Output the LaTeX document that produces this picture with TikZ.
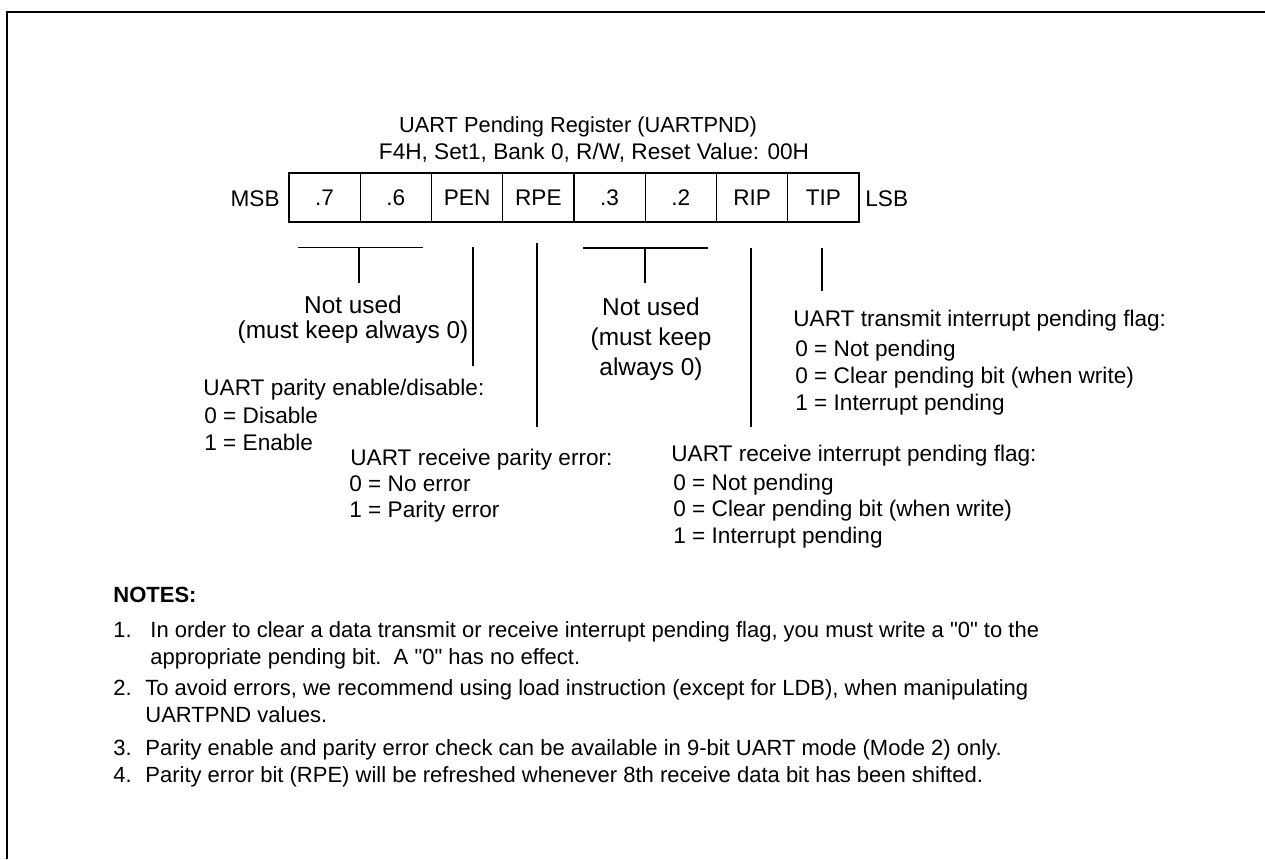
\documentclass[tikz,border=0pt]{standalone}
\usepackage{fontspec}
\setmainfont{Liberation Sans}[Ligatures=TeXOff]
\begin{document}
\begin{tikzpicture}[x=0.5pt,y=-0.5pt,
  txt/.style={inner sep=0pt, font=\fontsize{11.3pt}{13pt}\selectfont, text height=8.1pt, text depth=0pt},
  bigtxt/.style={inner sep=0pt, font=\fontsize{12.2pt}{14pt}\selectfont, text height=8.7pt, text depth=0pt},
  ntxt/.style={inner sep=0pt, anchor=west, font=\fontsize{11pt}{13pt}\selectfont, text height=7.9pt, text depth=0pt},
  cell/.style={draw, line width=0.6pt, minimum width=35.625pt, minimum height=24.5pt, inner sep=0pt,
    font=\fontsize{11.3pt}{13pt}\selectfont, text height=8.1pt, text depth=0pt},
  lnk/.style={line width=0.6pt}]
\useasboundingbox (0,0) rectangle (1265,859);
\draw[line width=1pt] (7,859) -- (7,12) -- (1265,12);

% title
\node[txt, font=\fontsize{10.9pt}{13pt}\selectfont, text height=7.8pt] (title) at (578,125) {UART Pending Register (UARTPND)};
\node[txt] (sub) at (594,151) {F4H, Set1, Bank 0, R/W, Reset Value: 00H};

% register cells
\node[cell] (b7) at (324.625,197.5) {.7};
\node[cell] (b6) at (395.875,197.5) {.6};
\node[cell] (b5) at (467.125,197.5) {PEN};
\node[cell] (b4) at (538.375,197.5) {RPE};
\node[cell] (b3) at (609.625,197.5) {.3};
\node[cell] (b2) at (680.875,197.5) {.2};
\node[cell] (b1) at (752.125,197.5) {RIP};
\node[cell] (b0) at (823.375,197.5) {TIP};
\node[txt, anchor=east] (msb) at (280,198) {MSB};
\node[txt, anchor=west] (lsb) at (865,198) {LSB};

% connector coordinates
\coordinate (br1l) at (298,247.5);
\coordinate (br1r) at (423,247.5);
\coordinate (br1t) at (359,247.5);
\coordinate (br1b) at (359,283);
\coordinate (penT) at (473,247);
\coordinate (penB) at (473,366);
\coordinate (rpeT) at (537,243);
\coordinate (rpeB) at (537,427);
\coordinate (br2l) at (583,248);
\coordinate (br2r) at (708,248);
\coordinate (br2t) at (645,248);
\coordinate (br2b) at (645,283);
\coordinate (ripT) at (751,248);
\coordinate (ripB) at (751,427);
\coordinate (tipT) at (822,248);
\coordinate (tipB) at (822,291);

\draw[lnk] (br1l) -- (br1r);
\draw[lnk] (br1t) -- (br1b);
\draw[lnk] (penT) -- (penB);
\draw[lnk] (rpeT) -- (rpeB);
\draw[lnk] (br2l) -- (br2r);
\draw[lnk] (br2t) -- (br2b);
\draw[lnk] (ripT) -- (ripB);
\draw[lnk] (tipT) -- (tipB);

% not used (left)
\node[bigtxt] (nu1a) at (353,305) {Not used};
\node[bigtxt] (nu1b) at (353,330) {(must keep always 0)};
% not used (right)
\node[bigtxt] (nu2a) at (651,307) {Not used};
\node[bigtxt] (nu2b) at (651,337) {(must keep};
\node[bigtxt] (nu2c) at (651,367) {always 0)};

% PEN description
\node[txt, anchor=west] (pen0) at (203,387) {UART parity enable/disable:};
\node[txt, anchor=west] (pen1) at (204,415) {0 = Disable};
\node[txt, anchor=west] (pen2) at (204,442) {1 = Enable};

% RPE description
\node[txt, anchor=west] (rpe0) at (350,457) {UART receive parity error:};
\node[txt, anchor=west] (rpe1) at (349,483) {0 = No error};
\node[txt, anchor=west] (rpe2) at (349,509) {1 = Parity error};

% TIP description
\node[txt, anchor=west] (tip0) at (793,318) {UART transmit interrupt pending flag:};
\node[txt, anchor=west] (tip1) at (795,348) {0 = Not pending};
\node[txt, anchor=west] (tip2) at (795,375) {0 = Clear pending bit (when write)};
\node[txt, anchor=west] (tip3) at (795,402) {1 = Interrupt pending};

% RIP description
\node[txt, anchor=west] (rip0) at (671,453) {UART receive interrupt pending flag:};
\node[txt, anchor=west] (rip1) at (673,482) {0 = Not pending};
\node[txt, anchor=west] (rip2) at (673,508) {0 = Clear pending bit (when write)};
\node[txt, anchor=west] (rip3) at (673,535) {1 = Interrupt pending};

% notes
\node[ntxt, font=\fontsize{11pt}{13pt}\selectfont\bfseries] (notes) at (113,595) {NOTES:};
\node[ntxt] (n1) at (113,630) {1.};
\node[ntxt] (n1a) at (150,630) {In order to clear a data transmit or receive interrupt pending flag, you must write a "0" to the};
\node[ntxt] (n1b) at (150,657) {appropriate pending bit.\ \ A "0" has no effect.};
\node[ntxt] (n2) at (113,688) {2.};
\node[ntxt] (n2a) at (145,688) {To avoid errors, we recommend using load instruction (except for LDB), when manipulating};
\node[ntxt] (n2b) at (145,715) {UARTPND values.};
\node[ntxt] (n3) at (113,748) {3.};
\node[ntxt] (n3a) at (145,748) {Parity enable and parity error check can be available in 9-bit UART mode (Mode 2) only.};
\node[ntxt] (n4) at (113,775) {4.};
\node[ntxt] (n4a) at (145,775) {Parity error bit (RPE) will be refreshed whenever 8th receive data bit has been shifted.};
\end{tikzpicture}
\end{document}
